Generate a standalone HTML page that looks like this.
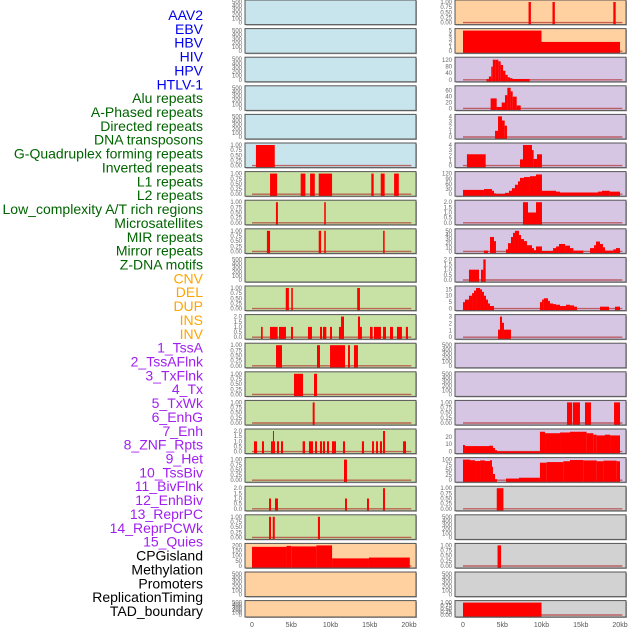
<!DOCTYPE html>
<html><head><meta charset="utf-8">
<style>
html,body{margin:0;padding:0;background:#fff;}
svg{display:block;}
</style></head>
<body>
<svg id="chart" width="630" height="630" viewBox="0 0 630 630" xmlns="http://www.w3.org/2000/svg" font-family="Liberation Sans, sans-serif"></svg>
<script>
const labels = ["AAV2","EBV","HBV","HIV","HPV","HTLV-1","Alu repeats","A-Phased repeats","Directed repeats","DNA transposons","G-Quadruplex forming repeats","Inverted repeats","L1 repeats","L2 repeats","Low_complexity A/T rich regions","Microsatellites","MIR repeats","Mirror repeats","Z-DNA motifs","CNV","DEL","DUP","INS","INV","1_TssA","2_TssAFlnk","3_TxFlnk","4_Tx","5_TxWk","6_EnhG","7_Enh","8_ZNF_Rpts","9_Het","10_TssBiv","11_BivFlnk","12_EnhBiv","13_ReprPC","14_ReprPCWk","15_Quies","CPGisland","Methylation","Promoters","ReplicationTiming","TAD_boundary"];
const groups = ["virus","virus","virus","virus","virus","virus","repeat","repeat","repeat","repeat","repeat","repeat","repeat","repeat","repeat","repeat","repeat","repeat","repeat","sv","sv","sv","sv","sv","chrom","chrom","chrom","chrom","chrom","chrom","chrom","chrom","chrom","chrom","chrom","chrom","chrom","chrom","chrom","other","other","other","other","other"];
const T500=[0,100,200,300,400,500], T1=[0,0.25,0.5,0.75,1], T2=[0,0.5,1,1.5,2];
const yMax = [500,500,500,500,500,1, 1,1,1,500,1,2,1,1,1,2,1,2,1, 200,500,500, 1,5,125,70,4,4,120,2,50,2,16,3,500,500,1,28,100,1,500,1,500,1];
const yTicks = [T500,T500,T500,T500,T500,T1, T1,T1,T1,T500,T1,T2,T1,T1,T1,T2,T1,T2,T1, [0,50,100,150,200],T500,T500,
 T1,[0,1,2,3,4,5],[0,40,80,120],[0,20,40,60],[0,1,2,3,4],[0,1,2,3,4],[0,30,60,90,120],T2,[0,10,20,30,40,50],T2,[0,5,10,15],[0,1,2,3],T500,T500,T1,[0,10,20],[0,25,50,75,100],T1,T500,T1,T500,T1];
// segments: [startKb, endKb, value]
const segments = [
 [],[],[],[],[],
 [[0.5,2.9,1]],
 [[2.3,3.2,1],[6.2,6.8,1],[7.4,8.0,1],[8.5,10.2,1],[15.2,15.5,1],[16.4,16.9,1],[18.1,18.7,1]],
 [[3.05,3.3,1],[9.2,9.4,1]],
 [[1.9,2.3,1],[8.5,8.8,1],[9.2,9.4,1],[16.7,16.9,1]],
 [],
 [[4.3,4.7,1],[5.0,5.2,1],[13.4,13.75,1]],
 [[1.15,1.36,1],[2.29,3.27,1],[3.44,4.33,1],[4.97,5.22,1],[7.13,7.64,1],[8.66,8.92,1],[9.04,9.47,1],[9.94,10.19,1],[11.08,11.34,1],[11.34,11.72,2],[13.5,13.76,2],[13.76,14.0,1],[15.03,15.37,1],[15.54,16.43,1],[16.69,17.07,1],[17.58,17.96,1],[18.47,19.1,1],[19.6,19.87,1]],
 [[3.06,3.82,1],[8.28,8.66,1],[9.94,11.85,1],[12.23,12.48,1],[12.99,13.5,1]],
 [[5.35,6.5,1],[7.9,8.28,1]],
 [[7.73,7.98,1]],
 [[0.25,0.64,1],[1.27,1.53,1],[2.42,2.67,1],[2.67,2.8,2],[2.8,2.93,1],[3.18,3.44,1],[3.69,3.95,1],[6.45,6.75,1],[7.26,7.77,1],[8.03,8.28,1],[8.66,8.92,1],[9.04,9.3,1],[9.55,9.81,1],[10.19,10.7,1],[11.59,11.85,1],[14.0,14.27,1],[15.29,15.54,1],[15.8,16.05,1],[16.3,16.56,1],[16.69,16.94,2],[19.24,19.62,1]],
 [[11.72,12.1,1]],
 [[2.17,2.42,1],[2.93,3.31,1],[11.85,12.1,1],[14.65,14.9,1],[16.69,16.94,2]],
 [[2.17,2.42,1],[2.64,2.9,1],[8.4,8.66,1]],
 [[0,4.4,186],[4.4,5.0,195],[5.0,8.2,190],[8.2,10.2,200],[10.2,14.9,74],[14.9,20.1,82]],
 [],[],
 [[8.35,8.65,1],[11.4,11.7,1],[19.15,19.45,1]],
 [[0,10.0,5],[10.0,20.0,2.25]],
 [[3.0,3.3,5],[3.3,3.6,20],[3.6,3.8,80],[3.8,4.1,122],[4.1,4.5,122],[4.5,4.8,112],[4.8,5.1,90],[5.1,5.4,55],[5.4,5.7,30],[5.7,6.0,15],[6.0,6.3,10],[6.3,8.5,5]],
 [[3.52,4.29,34],[4.29,4.93,5],[4.93,5.35,20],[5.35,5.65,45],[5.65,6.07,70],[6.07,6.33,58],[6.33,6.84,40],[6.84,7.35,10]],
 [[4.08,4.46,1.2],[4.46,4.97,4],[4.97,5.31,3.2],[5.31,5.6,2.2]],
 [[0.5,2.89,2.2],[7.26,7.64,1.2],[7.64,8.79,4],[8.79,9.0,3],[9.0,9.43,1.3],[9.43,10.06,2.2]],
 [[0,2.67,25],[2.67,3.69,30],[3.69,3.95,20],[3.95,4.2,5],[4.2,5.35,1],[5.35,5.86,8],[5.86,6.24,20],[6.24,6.62,35],[6.62,7.0,55],[7.0,7.26,75],[7.26,7.77,95],[7.77,8.53,100],[8.53,9.3,105],[9.3,10.06,115],[10.06,11.85,20],[11.85,12.36,15],[12.36,17.2,10],[17.2,17.7,15],[17.7,18.7,20],[18.7,20.0,15]],
 [[7.64,8.28,2],[8.28,9.3,1],[9.3,10.06,2]],
 [[2.67,3.18,2],[3.44,3.95,35],[3.95,4.2,25],[5.48,5.73,5],[5.73,6.11,20],[6.11,6.37,35],[6.37,6.62,45],[6.62,7.13,50],[7.13,7.39,40],[7.39,7.77,30],[7.77,8.15,25],[8.15,8.79,15],[8.79,9.04,8],[9.04,9.3,3],[9.3,10.06,12],[10.06,11.47,1],[11.47,11.85,8],[11.85,12.23,12],[12.23,13.0,18],[13.0,13.63,14],[13.63,14.06,8],[14.06,15.33,2],[16.18,16.69,8],[16.69,16.94,15],[16.94,17.45,24],[17.45,17.83,18],[17.83,18.09,10],[18.09,19.15,2],[19.15,19.49,5],[19.49,20.0,8]],
 [[0.76,2.04,1],[2.29,2.59,1],[2.59,2.89,2]],
 [[0,0.25,5],[0.25,0.76,7],[0.76,1.15,10],[1.15,1.4,12],[1.4,1.66,14],[1.66,2.17,16],[2.17,2.42,15],[2.42,2.67,13],[2.67,2.93,10],[2.93,3.18,7],[3.18,3.44,4],[3.44,3.95,2],[9.8,10.06,5],[10.06,10.3,7],[10.3,10.83,8],[10.83,11.08,6],[11.08,11.47,4],[11.47,11.85,3.5],[11.85,12.36,3],[12.36,13.12,2],[13.12,13.63,3],[13.63,14.14,2.5],[14.14,14.52,1.5],[17.45,18.6,1.5],[19.36,20.0,1.5]],
 [[4.46,4.71,1.1],[4.71,4.97,3],[4.97,5.22,2.1],[5.22,6.11,1.1]],
 [],[],
 [[13.25,13.9,1],[14.0,14.9,1],[15.54,16.3,1],[19.24,20.0,1]],
 [[0,0.25,9],[0.25,3.31,7.5],[3.31,3.82,8],[3.82,4.08,5],[4.08,4.33,2],[4.33,9.8,0.3],[9.8,10.45,27],[10.45,12.36,25],[12.36,13.63,26],[13.63,15.75,27],[15.75,16.6,25],[16.6,17.03,23],[17.03,18.09,22],[18.09,18.73,23],[18.73,20.0,22]],
 [[0,0.89,100],[0.89,1.53,97],[1.53,2.17,93],[2.17,2.8,96],[2.8,3.44,93],[3.44,3.69,97],[3.69,3.82,65],[3.82,4.08,30],[4.08,4.33,5],[5.48,7.13,8],[7.13,9.8,12],[9.8,10.66,85],[10.66,12.78,88],[12.78,13.63,92],[13.63,15.33,98],[15.33,17.03,96],[17.03,17.88,92],[17.88,19.58,95],[19.58,20.0,92]],
 [[4.3,5.15,1]],
 [],
 [[4.4,4.85,1]],
 [],
 [[0,10.0,1]]
];
const xTickVals = [0,5,10,15,20];
const xTickLabels = ["0","5kb","10kb","15kb","20kb"];

const NS="http://www.w3.org/2000/svg";
const svg=document.getElementById('chart');
const groupColor={virus:"#0000ee",repeat:"#006400",sv:"#ffa500",chrom:"#a020f0",other:"#000000"};
const bgFor=function(i){
  const g=groups[i];
  if(g==="virus")return "#c8e4ec";
  if(g==="repeat")return "#c8e1a5";
  if(g==="sv")return "#ffd1a0";
  if(g==="chrom")return "#d6c6e3";
  return "#d2d2d2";
};
const colLeft=[245,455], colOrigin=[252,463], pxPerKb=7.85, panelW=171;
function xScale(col,kb){return colOrigin[col]+kb*pxPerKb;}
function rowTop(r){return r*28.6;}
function rowH(r){return r===21?16.4:24.6;}
function mk(tag,attrs){const e=document.createElementNS(NS,tag);for(const k in attrs)e.setAttribute(k,attrs[k]);return e;}
function decimals(t){let d=0;t.forEach(function(v){const s=String(v);if(s.indexOf('.')>=0)d=Math.max(d,s.split('.')[1].length);});return d===1&&t.some(function(v){return String(v).split('.')[1]&&String(v).split('.')[1].length===2;})?2:d;}

// labels
labels.forEach(function(lab,i){
  const t=mk('text',{x:203,y:15+i*13.86+5,'text-anchor':'end','font-size':'14',fill:groupColor[groups[i]]});
  t.textContent=lab;
  
  
  svg.appendChild(t);
});

labels.forEach(function(lab,i){
  const col=i<22?0:1, r=i%22;
  const top=rowTop(r), h=rowH(r), bot=top+h, x0=colLeft[col];
  const g=mk('g',{});
  
  
  svg.appendChild(g);
  const shadow=mk('rect',{x:x0+1,y:top+1,width:panelW,height:h,fill:'#aaaaaa'});
  
  
  g.appendChild(shadow);
  const bg=mk('rect',{x:x0,y:top,width:panelW,height:h,fill:bgFor(i)});
  
  
  g.appendChild(bg);
  const ym=yMax[i];
  const yS=function(v){return (bot-2)-v/ym*(h-4);};
  const segs=segments[i];
  if(segs.length){
    const base=mk('line',{x1:xScale(col,0),x2:xScale(col,20.3),y1:bot-2,y2:bot-2,stroke:'#b03030','stroke-opacity':'0.7','stroke-width':'1.4'});
    
    
    g.appendChild(base);
  }
  segs.forEach(function(s){
    const xa=xScale(col,s[0]), xb=xScale(col,s[1]);
    const y=yS(s[2]);
    const b=mk('rect',{x:xa,y:y,width:Math.max(0.8,xb-xa),height:Math.max(0,bot-y),fill:'#ff0000'});
    
    
    g.appendChild(b);
  });
  const border=mk('rect',{x:x0,y:top,width:panelW,height:h,fill:'none',stroke:'#555','stroke-width':'1'});
  
  
  g.appendChild(border);
  const ticks=yTicks[i];
  let d=0; ticks.forEach(function(v){const p=String(v).split('.');if(p[1])d=Math.max(d,p[1].length);});
  ticks.forEach(function(v){
    const tt=mk('text',{x:x0-3,y:yS(v)+2,'text-anchor':'end','font-size':'6',fill:'#666'});
    tt.textContent=v.toFixed(d);
    
    
    g.appendChild(tt);
  });
});

[0,1].forEach(function(col){
  xTickVals.forEach(function(v,k){
    const t=mk('text',{x:xScale(col,v),y:627,'text-anchor':'middle','font-size':'7',fill:'#555'});
    t.textContent=xTickLabels[k];
    
    
    svg.appendChild(t);
  });
});
</script>
</body></html>
